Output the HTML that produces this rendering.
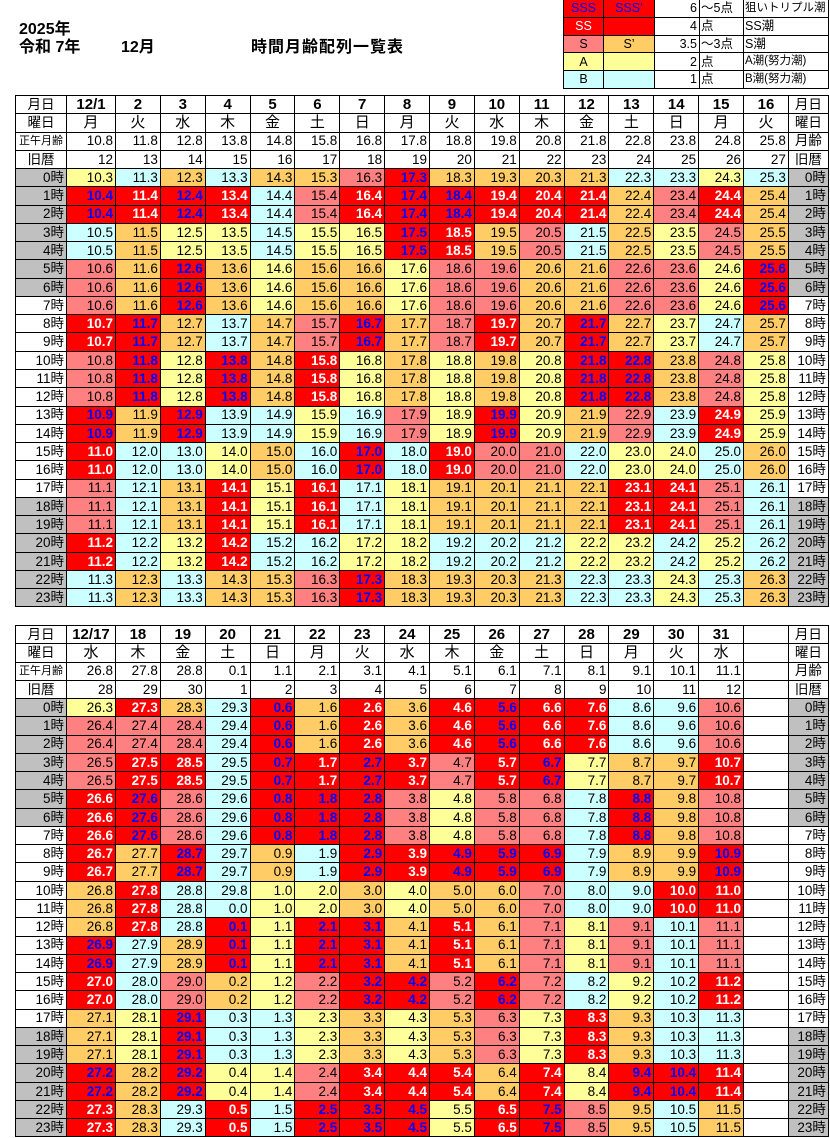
<!DOCTYPE html>
<html><head><meta charset="utf-8">
<style>
body{margin:0;width:830px;height:1138px;background:#fff;position:relative;overflow:hidden;font-family:"Liberation Sans","Noto Sans CJK JP",sans-serif;line-height:1;}
.ti{position:absolute;font-weight:bold;font-size:16px;white-space:nowrap;}
.t{position:absolute;left:15px;display:grid;grid-template-columns:50px 48px repeat(15,43.87px) 39px;grid-auto-rows:17.28px;gap:1px;padding:1px;background:#000;}
.t i{font-style:normal;background:#fff;display:flex;align-items:center;justify-content:flex-end;padding-right:2px;font-size:13.5px;line-height:1;overflow:hidden;white-space:nowrap;}
.t i.m{justify-content:center;padding:0;}
.t i.h{font-weight:bold;font-size:15px;}
.t i.w{font-size:15px;}
.t i.sm{font-size:11px;justify-content:center;padding:0;}
.r{background:#f00!important;color:#fff;font-weight:bold;}
.b{background:#f00!important;color:#00f;font-weight:bold;}
.s{background:#ff8080!important;}
.o{background:#ffcc66!important;}
.y{background:#ffff99!important;}
.c{background:#ccffff!important;}
.g{background:#c0c0c0!important;}
.lg{position:absolute;left:563px;top:-1px;display:grid;grid-template-columns:39px 50px 44px 43px 84px;grid-auto-rows:16.8px;gap:1px;padding:1px;background:#000;}
.lg i{font-style:normal;background:#fff;display:flex;align-items:center;font-size:12.5px;line-height:1;white-space:nowrap;overflow:hidden;}
.lg i.m{justify-content:center;}
.lg i.rt{justify-content:flex-end;padding-right:2px;}
.lg i.lt{padding-left:1px;}
.lg i.n{font-size:11.5px;}
.lg i.bl{color:#00f;font-weight:normal;}
.lg i.wt{color:#fff;font-weight:normal;}
</style></head><body>
<div class="ti" style="left:19px;top:22px;">2025年</div>
<div class="ti" style="left:19px;top:40px;">令和 7年</div>
<div class="ti" style="left:121px;top:40px;">12月</div>
<div class="ti" style="left:251px;top:40px;letter-spacing:1px;">時間月齢配列一覧表</div>

<div class="lg">
<i class="m b bl">SSS</i><i class="m b bl">SSS’</i><i class="rt">6</i><i class="lt">〜5点</i><i class="lt n">狙いトリプル潮</i>
<i class="m r wt">SS</i><i class="r"></i><i class="rt">4</i><i class="lt">点</i><i class="lt">SS潮</i>
<i class="m s">S</i><i class="m o">S’</i><i class="rt">3.5</i><i class="lt">〜3点</i><i class="lt">S潮</i>
<i class="m y">A</i><i class="y"></i><i class="rt">2</i><i class="lt">点</i><i class="lt n">A潮(努力潮)</i>
<i class="m c">B</i><i class="c"></i><i class="rt">1</i><i class="lt">点</i><i class="lt n">B潮(努力潮)</i>
</div>

<div class="t" style="top:95px;">
<i class="m">月日</i><i class="m h">12/1</i><i class="m h">2</i><i class="m h">3</i><i class="m h">4</i><i class="m h">5</i><i class="m h">6</i><i class="m h">7</i><i class="m h">8</i><i class="m h">9</i><i class="m h">10</i><i class="m h">11</i><i class="m h">12</i><i class="m h">13</i><i class="m h">14</i><i class="m h">15</i><i class="m h">16</i><i class="m">月日</i>
<i class="m">曜日</i><i class="m w">月</i><i class="m w">火</i><i class="m w">水</i><i class="m w">木</i><i class="m w">金</i><i class="m w">土</i><i class="m w">日</i><i class="m w">月</i><i class="m w">火</i><i class="m w">水</i><i class="m w">木</i><i class="m w">金</i><i class="m w">土</i><i class="m w">日</i><i class="m w">月</i><i class="m w">火</i><i class="m">曜日</i>
<i class="sm">正午月齢</i><i>10.8</i><i>11.8</i><i>12.8</i><i>13.8</i><i>14.8</i><i>15.8</i><i>16.8</i><i>17.8</i><i>18.8</i><i>19.8</i><i>20.8</i><i>21.8</i><i>22.8</i><i>23.8</i><i>24.8</i><i>25.8</i><i class="m">月齢</i>
<i class="m">旧暦</i><i>12</i><i>13</i><i>14</i><i>15</i><i>16</i><i>17</i><i>18</i><i>19</i><i>20</i><i>21</i><i>22</i><i>23</i><i>24</i><i>25</i><i>26</i><i>27</i><i class="m">旧暦</i>
<i class="g">0時</i><i class="y">10.3</i><i class="c">11.3</i><i class="o">12.3</i><i class="c">13.3</i><i class="o">14.3</i><i class="o">15.3</i><i class="s">16.3</i><i class="b">17.3</i><i class="o">18.3</i><i class="o">19.3</i><i class="o">20.3</i><i class="o">21.3</i><i class="c">22.3</i><i class="c">23.3</i><i class="y">24.3</i><i class="c">25.3</i><i class="g">0時</i>
<i class="g">1時</i><i class="b">10.4</i><i class="r">11.4</i><i class="b">12.4</i><i class="r">13.4</i><i class="c">14.4</i><i class="s">15.4</i><i class="r">16.4</i><i class="b">17.4</i><i class="b">18.4</i><i class="r">19.4</i><i class="r">20.4</i><i class="r">21.4</i><i class="o">22.4</i><i class="s">23.4</i><i class="r">24.4</i><i class="o">25.4</i><i class="g">1時</i>
<i class="g">2時</i><i class="b">10.4</i><i class="r">11.4</i><i class="b">12.4</i><i class="r">13.4</i><i class="c">14.4</i><i class="s">15.4</i><i class="r">16.4</i><i class="b">17.4</i><i class="b">18.4</i><i class="r">19.4</i><i class="r">20.4</i><i class="r">21.4</i><i class="o">22.4</i><i class="s">23.4</i><i class="r">24.4</i><i class="o">25.4</i><i class="g">2時</i>
<i class="g">3時</i><i class="c">10.5</i><i class="o">11.5</i><i class="y">12.5</i><i class="y">13.5</i><i class="c">14.5</i><i class="y">15.5</i><i class="y">16.5</i><i class="b">17.5</i><i class="r">18.5</i><i class="o">19.5</i><i class="s">20.5</i><i class="c">21.5</i><i class="o">22.5</i><i class="y">23.5</i><i class="s">24.5</i><i class="o">25.5</i><i class="g">3時</i>
<i class="g">4時</i><i class="c">10.5</i><i class="o">11.5</i><i class="y">12.5</i><i class="y">13.5</i><i class="c">14.5</i><i class="y">15.5</i><i class="y">16.5</i><i class="b">17.5</i><i class="r">18.5</i><i class="o">19.5</i><i class="s">20.5</i><i class="c">21.5</i><i class="o">22.5</i><i class="y">23.5</i><i class="s">24.5</i><i class="o">25.5</i><i class="g">4時</i>
<i class="g">5時</i><i class="s">10.6</i><i class="o">11.6</i><i class="b">12.6</i><i class="o">13.6</i><i class="y">14.6</i><i class="o">15.6</i><i class="o">16.6</i><i class="y">17.6</i><i class="s">18.6</i><i class="s">19.6</i><i class="o">20.6</i><i class="o">21.6</i><i class="s">22.6</i><i class="s">23.6</i><i class="y">24.6</i><i class="b">25.6</i><i class="g">5時</i>
<i class="g">6時</i><i class="s">10.6</i><i class="o">11.6</i><i class="b">12.6</i><i class="o">13.6</i><i class="y">14.6</i><i class="o">15.6</i><i class="o">16.6</i><i class="y">17.6</i><i class="s">18.6</i><i class="s">19.6</i><i class="o">20.6</i><i class="o">21.6</i><i class="s">22.6</i><i class="s">23.6</i><i class="y">24.6</i><i class="b">25.6</i><i class="g">6時</i>
<i>7時</i><i class="s">10.6</i><i class="o">11.6</i><i class="b">12.6</i><i class="o">13.6</i><i class="y">14.6</i><i class="o">15.6</i><i class="o">16.6</i><i class="y">17.6</i><i class="s">18.6</i><i class="s">19.6</i><i class="o">20.6</i><i class="o">21.6</i><i class="s">22.6</i><i class="s">23.6</i><i class="y">24.6</i><i class="b">25.6</i><i>7時</i>
<i>8時</i><i class="r">10.7</i><i class="b">11.7</i><i class="o">12.7</i><i class="c">13.7</i><i class="o">14.7</i><i class="s">15.7</i><i class="b">16.7</i><i class="o">17.7</i><i class="s">18.7</i><i class="r">19.7</i><i class="o">20.7</i><i class="b">21.7</i><i class="o">22.7</i><i class="y">23.7</i><i class="c">24.7</i><i class="o">25.7</i><i>8時</i>
<i>9時</i><i class="r">10.7</i><i class="b">11.7</i><i class="o">12.7</i><i class="c">13.7</i><i class="o">14.7</i><i class="s">15.7</i><i class="b">16.7</i><i class="o">17.7</i><i class="s">18.7</i><i class="r">19.7</i><i class="o">20.7</i><i class="b">21.7</i><i class="o">22.7</i><i class="y">23.7</i><i class="c">24.7</i><i class="o">25.7</i><i>9時</i>
<i>10時</i><i class="s">10.8</i><i class="b">11.8</i><i class="y">12.8</i><i class="b">13.8</i><i class="o">14.8</i><i class="r">15.8</i><i class="y">16.8</i><i class="o">17.8</i><i class="y">18.8</i><i class="o">19.8</i><i class="y">20.8</i><i class="b">21.8</i><i class="b">22.8</i><i class="o">23.8</i><i class="s">24.8</i><i class="y">25.8</i><i>10時</i>
<i>11時</i><i class="s">10.8</i><i class="b">11.8</i><i class="y">12.8</i><i class="b">13.8</i><i class="o">14.8</i><i class="r">15.8</i><i class="y">16.8</i><i class="o">17.8</i><i class="y">18.8</i><i class="o">19.8</i><i class="y">20.8</i><i class="b">21.8</i><i class="b">22.8</i><i class="o">23.8</i><i class="s">24.8</i><i class="y">25.8</i><i>11時</i>
<i>12時</i><i class="s">10.8</i><i class="b">11.8</i><i class="y">12.8</i><i class="b">13.8</i><i class="o">14.8</i><i class="r">15.8</i><i class="y">16.8</i><i class="o">17.8</i><i class="y">18.8</i><i class="o">19.8</i><i class="y">20.8</i><i class="b">21.8</i><i class="b">22.8</i><i class="o">23.8</i><i class="s">24.8</i><i class="y">25.8</i><i>12時</i>
<i>13時</i><i class="b">10.9</i><i class="o">11.9</i><i class="b">12.9</i><i class="c">13.9</i><i class="c">14.9</i><i class="y">15.9</i><i class="c">16.9</i><i class="s">17.9</i><i class="y">18.9</i><i class="b">19.9</i><i class="y">20.9</i><i class="o">21.9</i><i class="s">22.9</i><i class="c">23.9</i><i class="r">24.9</i><i class="y">25.9</i><i>13時</i>
<i>14時</i><i class="b">10.9</i><i class="o">11.9</i><i class="b">12.9</i><i class="c">13.9</i><i class="c">14.9</i><i class="y">15.9</i><i class="c">16.9</i><i class="s">17.9</i><i class="y">18.9</i><i class="b">19.9</i><i class="y">20.9</i><i class="o">21.9</i><i class="s">22.9</i><i class="c">23.9</i><i class="r">24.9</i><i class="y">25.9</i><i>14時</i>
<i>15時</i><i class="r">11.0</i><i class="c">12.0</i><i class="c">13.0</i><i class="y">14.0</i><i class="o">15.0</i><i class="c">16.0</i><i class="b">17.0</i><i class="c">18.0</i><i class="r">19.0</i><i class="s">20.0</i><i class="s">21.0</i><i class="c">22.0</i><i class="y">23.0</i><i class="y">24.0</i><i class="c">25.0</i><i class="o">26.0</i><i>15時</i>
<i>16時</i><i class="r">11.0</i><i class="c">12.0</i><i class="c">13.0</i><i class="y">14.0</i><i class="o">15.0</i><i class="c">16.0</i><i class="b">17.0</i><i class="c">18.0</i><i class="r">19.0</i><i class="s">20.0</i><i class="s">21.0</i><i class="c">22.0</i><i class="y">23.0</i><i class="y">24.0</i><i class="c">25.0</i><i class="o">26.0</i><i>16時</i>
<i>17時</i><i class="s">11.1</i><i class="c">12.1</i><i class="o">13.1</i><i class="r">14.1</i><i class="y">15.1</i><i class="r">16.1</i><i class="c">17.1</i><i class="y">18.1</i><i class="o">19.1</i><i class="o">20.1</i><i class="o">21.1</i><i class="o">22.1</i><i class="r">23.1</i><i class="r">24.1</i><i class="s">25.1</i><i class="c">26.1</i><i>17時</i>
<i class="g">18時</i><i class="s">11.1</i><i class="c">12.1</i><i class="o">13.1</i><i class="r">14.1</i><i class="y">15.1</i><i class="r">16.1</i><i class="c">17.1</i><i class="y">18.1</i><i class="o">19.1</i><i class="o">20.1</i><i class="o">21.1</i><i class="o">22.1</i><i class="r">23.1</i><i class="r">24.1</i><i class="s">25.1</i><i class="c">26.1</i><i class="g">18時</i>
<i class="g">19時</i><i class="s">11.1</i><i class="c">12.1</i><i class="o">13.1</i><i class="r">14.1</i><i class="y">15.1</i><i class="r">16.1</i><i class="c">17.1</i><i class="y">18.1</i><i class="o">19.1</i><i class="o">20.1</i><i class="o">21.1</i><i class="o">22.1</i><i class="r">23.1</i><i class="r">24.1</i><i class="s">25.1</i><i class="c">26.1</i><i class="g">19時</i>
<i class="g">20時</i><i class="r">11.2</i><i class="c">12.2</i><i class="y">13.2</i><i class="r">14.2</i><i class="c">15.2</i><i class="c">16.2</i><i class="y">17.2</i><i class="y">18.2</i><i class="c">19.2</i><i class="c">20.2</i><i class="c">21.2</i><i class="y">22.2</i><i class="y">23.2</i><i class="c">24.2</i><i class="y">25.2</i><i class="c">26.2</i><i class="g">20時</i>
<i class="g">21時</i><i class="r">11.2</i><i class="c">12.2</i><i class="y">13.2</i><i class="r">14.2</i><i class="c">15.2</i><i class="c">16.2</i><i class="y">17.2</i><i class="y">18.2</i><i class="c">19.2</i><i class="c">20.2</i><i class="c">21.2</i><i class="y">22.2</i><i class="y">23.2</i><i class="c">24.2</i><i class="y">25.2</i><i class="c">26.2</i><i class="g">21時</i>
<i class="g">22時</i><i class="c">11.3</i><i class="o">12.3</i><i class="c">13.3</i><i class="o">14.3</i><i class="o">15.3</i><i class="s">16.3</i><i class="b">17.3</i><i class="o">18.3</i><i class="o">19.3</i><i class="o">20.3</i><i class="o">21.3</i><i class="c">22.3</i><i class="c">23.3</i><i class="y">24.3</i><i class="c">25.3</i><i class="o">26.3</i><i class="g">22時</i>
<i class="g">23時</i><i class="c">11.3</i><i class="o">12.3</i><i class="c">13.3</i><i class="o">14.3</i><i class="o">15.3</i><i class="s">16.3</i><i class="b">17.3</i><i class="o">18.3</i><i class="o">19.3</i><i class="o">20.3</i><i class="o">21.3</i><i class="c">22.3</i><i class="c">23.3</i><i class="y">24.3</i><i class="c">25.3</i><i class="o">26.3</i><i class="g">23時</i>
</div>

<div class="t" style="top:625px;">
<i class="m">月日</i><i class="m h">12/17</i><i class="m h">18</i><i class="m h">19</i><i class="m h">20</i><i class="m h">21</i><i class="m h">22</i><i class="m h">23</i><i class="m h">24</i><i class="m h">25</i><i class="m h">26</i><i class="m h">27</i><i class="m h">28</i><i class="m h">29</i><i class="m h">30</i><i class="m h">31</i><i></i><i class="m">月日</i>
<i class="m">曜日</i><i class="m w">水</i><i class="m w">木</i><i class="m w">金</i><i class="m w">土</i><i class="m w">日</i><i class="m w">月</i><i class="m w">火</i><i class="m w">水</i><i class="m w">木</i><i class="m w">金</i><i class="m w">土</i><i class="m w">日</i><i class="m w">月</i><i class="m w">火</i><i class="m w">水</i><i></i><i class="m">曜日</i>
<i class="sm">正午月齢</i><i>26.8</i><i>27.8</i><i>28.8</i><i>0.1</i><i>1.1</i><i>2.1</i><i>3.1</i><i>4.1</i><i>5.1</i><i>6.1</i><i>7.1</i><i>8.1</i><i>9.1</i><i>10.1</i><i>11.1</i><i></i><i class="m">月齢</i>
<i class="m">旧暦</i><i>28</i><i>29</i><i>30</i><i>1</i><i>2</i><i>3</i><i>4</i><i>5</i><i>6</i><i>7</i><i>8</i><i>9</i><i>10</i><i>11</i><i>12</i><i></i><i class="m">旧暦</i>
<i class="g">0時</i><i class="y">26.3</i><i class="r">27.3</i><i class="o">28.3</i><i class="c">29.3</i><i class="b">0.6</i><i class="o">1.6</i><i class="r">2.6</i><i class="o">3.6</i><i class="r">4.6</i><i class="b">5.6</i><i class="r">6.6</i><i class="r">7.6</i><i class="c">8.6</i><i class="c">9.6</i><i class="s">10.6</i><i></i><i class="g">0時</i>
<i class="g">1時</i><i class="s">26.4</i><i class="s">27.4</i><i class="s">28.4</i><i class="c">29.4</i><i class="b">0.6</i><i class="o">1.6</i><i class="r">2.6</i><i class="o">3.6</i><i class="r">4.6</i><i class="b">5.6</i><i class="r">6.6</i><i class="r">7.6</i><i class="c">8.6</i><i class="c">9.6</i><i class="s">10.6</i><i></i><i class="g">1時</i>
<i class="g">2時</i><i class="s">26.4</i><i class="s">27.4</i><i class="s">28.4</i><i class="c">29.4</i><i class="b">0.6</i><i class="o">1.6</i><i class="r">2.6</i><i class="o">3.6</i><i class="r">4.6</i><i class="b">5.6</i><i class="r">6.6</i><i class="r">7.6</i><i class="c">8.6</i><i class="c">9.6</i><i class="s">10.6</i><i></i><i class="g">2時</i>
<i class="g">3時</i><i class="s">26.5</i><i class="r">27.5</i><i class="r">28.5</i><i class="c">29.5</i><i class="b">0.7</i><i class="r">1.7</i><i class="b">2.7</i><i class="r">3.7</i><i class="s">4.7</i><i class="r">5.7</i><i class="b">6.7</i><i class="y">7.7</i><i class="o">8.7</i><i class="o">9.7</i><i class="r">10.7</i><i></i><i class="g">3時</i>
<i class="g">4時</i><i class="s">26.5</i><i class="r">27.5</i><i class="r">28.5</i><i class="c">29.5</i><i class="b">0.7</i><i class="r">1.7</i><i class="b">2.7</i><i class="r">3.7</i><i class="s">4.7</i><i class="r">5.7</i><i class="b">6.7</i><i class="y">7.7</i><i class="o">8.7</i><i class="o">9.7</i><i class="r">10.7</i><i></i><i class="g">4時</i>
<i class="g">5時</i><i class="r">26.6</i><i class="b">27.6</i><i class="s">28.6</i><i class="c">29.6</i><i class="b">0.8</i><i class="b">1.8</i><i class="b">2.8</i><i class="s">3.8</i><i class="y">4.8</i><i class="s">5.8</i><i class="s">6.8</i><i class="c">7.8</i><i class="b">8.8</i><i class="o">9.8</i><i class="s">10.8</i><i></i><i class="g">5時</i>
<i class="g">6時</i><i class="r">26.6</i><i class="b">27.6</i><i class="s">28.6</i><i class="c">29.6</i><i class="b">0.8</i><i class="b">1.8</i><i class="b">2.8</i><i class="s">3.8</i><i class="y">4.8</i><i class="s">5.8</i><i class="s">6.8</i><i class="c">7.8</i><i class="b">8.8</i><i class="o">9.8</i><i class="s">10.8</i><i></i><i class="g">6時</i>
<i>7時</i><i class="r">26.6</i><i class="b">27.6</i><i class="s">28.6</i><i class="c">29.6</i><i class="b">0.8</i><i class="b">1.8</i><i class="b">2.8</i><i class="s">3.8</i><i class="y">4.8</i><i class="s">5.8</i><i class="s">6.8</i><i class="c">7.8</i><i class="b">8.8</i><i class="o">9.8</i><i class="s">10.8</i><i></i><i>7時</i>
<i>8時</i><i class="r">26.7</i><i class="o">27.7</i><i class="b">28.7</i><i class="c">29.7</i><i class="o">0.9</i><i class="c">1.9</i><i class="b">2.9</i><i class="r">3.9</i><i class="b">4.9</i><i class="b">5.9</i><i class="b">6.9</i><i class="c">7.9</i><i class="o">8.9</i><i class="o">9.9</i><i class="b">10.9</i><i></i><i>8時</i>
<i>9時</i><i class="r">26.7</i><i class="o">27.7</i><i class="b">28.7</i><i class="c">29.7</i><i class="o">0.9</i><i class="c">1.9</i><i class="b">2.9</i><i class="r">3.9</i><i class="b">4.9</i><i class="b">5.9</i><i class="b">6.9</i><i class="c">7.9</i><i class="o">8.9</i><i class="o">9.9</i><i class="b">10.9</i><i></i><i>9時</i>
<i>10時</i><i class="o">26.8</i><i class="r">27.8</i><i class="c">28.8</i><i class="c">29.8</i><i class="y">1.0</i><i class="y">2.0</i><i class="o">3.0</i><i class="y">4.0</i><i class="o">5.0</i><i class="o">6.0</i><i class="s">7.0</i><i class="c">8.0</i><i class="c">9.0</i><i class="r">10.0</i><i class="r">11.0</i><i></i><i>10時</i>
<i>11時</i><i class="o">26.8</i><i class="r">27.8</i><i class="c">28.8</i><i class="c">0.0</i><i class="y">1.0</i><i class="y">2.0</i><i class="o">3.0</i><i class="y">4.0</i><i class="o">5.0</i><i class="o">6.0</i><i class="s">7.0</i><i class="c">8.0</i><i class="c">9.0</i><i class="r">10.0</i><i class="r">11.0</i><i></i><i>11時</i>
<i>12時</i><i class="o">26.8</i><i class="r">27.8</i><i class="c">28.8</i><i class="b">0.1</i><i class="y">1.1</i><i class="b">2.1</i><i class="b">3.1</i><i class="o">4.1</i><i class="r">5.1</i><i class="o">6.1</i><i class="s">7.1</i><i class="y">8.1</i><i class="s">9.1</i><i class="c">10.1</i><i class="s">11.1</i><i></i><i>12時</i>
<i>13時</i><i class="b">26.9</i><i class="c">27.9</i><i class="o">28.9</i><i class="b">0.1</i><i class="y">1.1</i><i class="b">2.1</i><i class="b">3.1</i><i class="o">4.1</i><i class="r">5.1</i><i class="o">6.1</i><i class="s">7.1</i><i class="y">8.1</i><i class="s">9.1</i><i class="c">10.1</i><i class="s">11.1</i><i></i><i>13時</i>
<i>14時</i><i class="b">26.9</i><i class="c">27.9</i><i class="o">28.9</i><i class="b">0.1</i><i class="y">1.1</i><i class="b">2.1</i><i class="b">3.1</i><i class="o">4.1</i><i class="r">5.1</i><i class="o">6.1</i><i class="s">7.1</i><i class="y">8.1</i><i class="s">9.1</i><i class="c">10.1</i><i class="s">11.1</i><i></i><i>14時</i>
<i>15時</i><i class="r">27.0</i><i class="c">28.0</i><i class="s">29.0</i><i class="o">0.2</i><i class="y">1.2</i><i class="s">2.2</i><i class="b">3.2</i><i class="b">4.2</i><i class="s">5.2</i><i class="b">6.2</i><i class="s">7.2</i><i class="c">8.2</i><i class="y">9.2</i><i class="c">10.2</i><i class="r">11.2</i><i></i><i>15時</i>
<i>16時</i><i class="r">27.0</i><i class="c">28.0</i><i class="s">29.0</i><i class="o">0.2</i><i class="y">1.2</i><i class="s">2.2</i><i class="b">3.2</i><i class="b">4.2</i><i class="s">5.2</i><i class="b">6.2</i><i class="s">7.2</i><i class="c">8.2</i><i class="y">9.2</i><i class="c">10.2</i><i class="r">11.2</i><i></i><i>16時</i>
<i>17時</i><i class="o">27.1</i><i class="y">28.1</i><i class="b">29.1</i><i class="c">0.3</i><i class="c">1.3</i><i class="y">2.3</i><i class="o">3.3</i><i class="y">4.3</i><i class="o">5.3</i><i class="s">6.3</i><i class="y">7.3</i><i class="r">8.3</i><i class="o">9.3</i><i class="c">10.3</i><i class="c">11.3</i><i></i><i>17時</i>
<i class="g">18時</i><i class="o">27.1</i><i class="y">28.1</i><i class="b">29.1</i><i class="c">0.3</i><i class="c">1.3</i><i class="y">2.3</i><i class="o">3.3</i><i class="y">4.3</i><i class="o">5.3</i><i class="s">6.3</i><i class="y">7.3</i><i class="r">8.3</i><i class="o">9.3</i><i class="c">10.3</i><i class="c">11.3</i><i></i><i class="g">18時</i>
<i class="g">19時</i><i class="o">27.1</i><i class="y">28.1</i><i class="b">29.1</i><i class="c">0.3</i><i class="c">1.3</i><i class="y">2.3</i><i class="o">3.3</i><i class="y">4.3</i><i class="o">5.3</i><i class="s">6.3</i><i class="y">7.3</i><i class="r">8.3</i><i class="o">9.3</i><i class="c">10.3</i><i class="c">11.3</i><i></i><i class="g">19時</i>
<i class="g">20時</i><i class="b">27.2</i><i class="o">28.2</i><i class="b">29.2</i><i class="y">0.4</i><i class="y">1.4</i><i class="s">2.4</i><i class="r">3.4</i><i class="r">4.4</i><i class="r">5.4</i><i class="o">6.4</i><i class="r">7.4</i><i class="y">8.4</i><i class="b">9.4</i><i class="b">10.4</i><i class="r">11.4</i><i></i><i class="g">20時</i>
<i class="g">21時</i><i class="b">27.2</i><i class="o">28.2</i><i class="b">29.2</i><i class="y">0.4</i><i class="y">1.4</i><i class="s">2.4</i><i class="r">3.4</i><i class="r">4.4</i><i class="r">5.4</i><i class="o">6.4</i><i class="r">7.4</i><i class="y">8.4</i><i class="b">9.4</i><i class="b">10.4</i><i class="r">11.4</i><i></i><i class="g">21時</i>
<i class="g">22時</i><i class="r">27.3</i><i class="o">28.3</i><i class="c">29.3</i><i class="r">0.5</i><i class="c">1.5</i><i class="b">2.5</i><i class="b">3.5</i><i class="b">4.5</i><i class="y">5.5</i><i class="r">6.5</i><i class="b">7.5</i><i class="s">8.5</i><i class="o">9.5</i><i class="c">10.5</i><i class="o">11.5</i><i></i><i class="g">22時</i>
<i class="g">23時</i><i class="r">27.3</i><i class="o">28.3</i><i class="c">29.3</i><i class="r">0.5</i><i class="c">1.5</i><i class="b">2.5</i><i class="b">3.5</i><i class="b">4.5</i><i class="y">5.5</i><i class="r">6.5</i><i class="b">7.5</i><i class="s">8.5</i><i class="o">9.5</i><i class="c">10.5</i><i class="o">11.5</i><i></i><i class="g">23時</i>
</div>
</body></html>
